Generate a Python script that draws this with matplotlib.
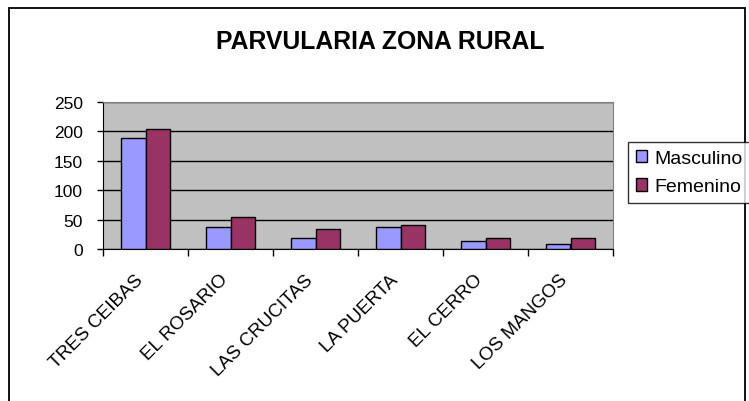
import numpy as np
import matplotlib
matplotlib.use("Agg")
import matplotlib.pyplot as plt
from matplotlib.patches import Rectangle

plt.rcParams["font.family"] = ["Liberation Sans", "DejaVu Sans"]

# datos
escuelas = ["TRES CEIBAS", "EL ROSARIO", "LAS CRUCITAS", "LA PUERTA", "EL CERRO", "LOS MANGOS"]
masculino = [188, 37, 18, 37, 13, 8]
femenino = [204, 55, 34, 40, 18, 18]
yticks = [0, 50, 100, 150, 200, 250]

fig = plt.figure(figsize=(7.49, 4.02), dpi=100)
fig.patches.append(Rectangle((9 / 749, -0.01), 736 / 749, 1 - 9 / 402 + 0.01,
                             transform=fig.transFigure, fill=False,
                             edgecolor="black", linewidth=1.3))

ax = fig.add_axes([103 / 749, 1 - 250 / 402, (613 - 103) / 749, (250 - 103) / 402])
ax.set_facecolor("#C0C0C0")

x = np.arange(len(escuelas))
w = 1 / 3.5
ax.bar(x - w / 2, masculino, w, color="#9999FF", edgecolor="black", linewidth=1,
       label="Masculino", zorder=3)
ax.bar(x + w / 2, femenino, w, color="#993366", edgecolor="black", linewidth=1,
       label="Femenino", zorder=3)

ax.set_xlim(-0.5, len(escuelas) - 0.5)
ax.set_ylim(0, 250)
ax.set_yticks(yticks)
ax.tick_params(axis="y", labelsize=12.5, direction="out", length=4.5, width=1, pad=10)
ax.yaxis.grid(True, color="black", linewidth=1, zorder=1)
ax.set_axisbelow(True)

# ticks entre categorias, etiquetas cerca del centro
ax.set_xticks(np.arange(-0.5, len(escuelas)), minor=False)
ax.set_xticklabels([])
ax.set_xticks(x - 0.06, minor=True)
ax.set_xticklabels(escuelas, minor=True, rotation=45, ha="right", va="center",
                   rotation_mode="anchor", fontsize=13.5)
ax.tick_params(axis="x", which="major", direction="out", length=5, width=1)
ax.tick_params(axis="x", which="minor", length=0, pad=20)

for s in ["top", "right"]:
    ax.spines[s].set_color("#808080")
ax.spines["left"].set_color("black")
ax.spines["bottom"].set_color("black")

fig.text(380 / 749, 1 - 42 / 402, "PARVULARIA ZONA RURAL", ha="center", va="center",
         fontsize=17.8, fontweight="bold")

leg = fig.legend(loc="upper left", bbox_to_anchor=(628 / 749, 1 - 143 / 402),
                 fontsize=14, frameon=True, fancybox=False, edgecolor="black",
                 handlelength=0.6, handleheight=0.6, handletextpad=0.35,
                 borderpad=0.4, labelspacing=0.6, borderaxespad=0)
leg.get_frame().set_linewidth(1)

fig.savefig("out.png", dpi=100, facecolor="white")
